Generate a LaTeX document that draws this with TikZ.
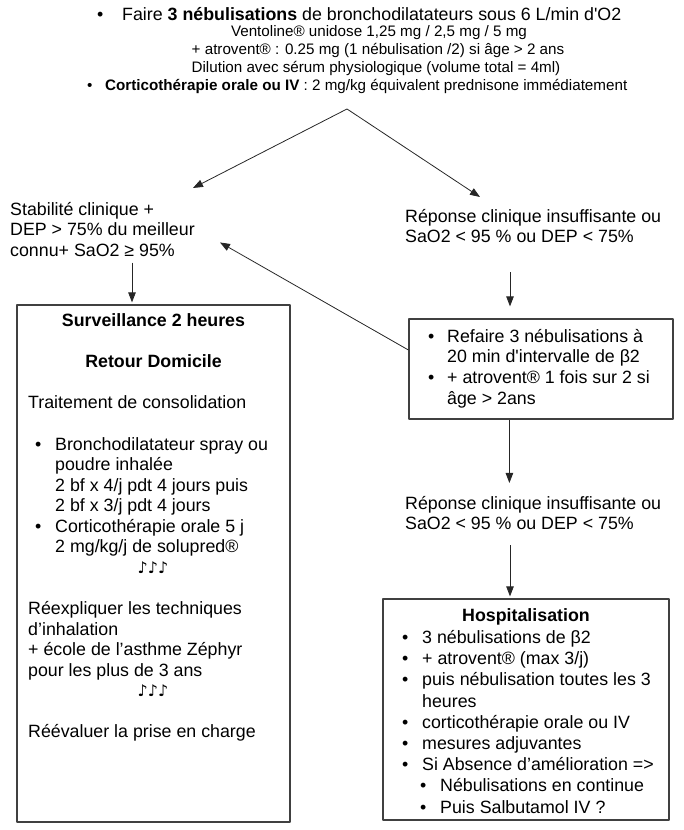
\documentclass[tikz,border=0pt]{standalone}
\usepackage{fontspec}
\setmainfont{Liberation Sans}
\newfontfamily\notesfont{DejaVu Sans}
\usetikzlibrary{arrows.meta}

\newcommand\bodysize{\fontsize{17.8bp}{20.55bp}\selectfont}
\newcommand\smallsize{\fontsize{15.2bp}{18bp}\selectfont}
\newcommand\bul{\makebox[20bp][l]{\textbullet}}
\newcommand\ind{\hspace*{20bp}}

\tikzset{
  txt/.style={inner sep=0pt, anchor=base west, font=\bodysize},
  para/.style={inner sep=0pt, anchor=north west, align=left, font=\bodysize},
  frame/.style={draw=black!75, line width=1.2bp, inner sep=0pt},
  notes/.style={inner sep=0pt, anchor=base, font=\notesfont\bfseries\fontsize{16bp}{18bp}\selectfont},
  link/.style={->, draw=black!85, line width=0.8bp},
}

\begin{document}
\begin{tikzpicture}[>={Triangle[length=10bp,width=7.5bp]},line join=bevel]
  \useasboundingbox (0bp,0bp) rectangle (684bp,830bp);
%%
  % Node: Nebul
  \node[txt] (nebul) at (97bp,809bp) {\makebox[25bp][l]{\textbullet}Faire \textbf{3 nébulisations} de bronchodilatateurs sous 6 L/min d\textquotesingle O2};
  \node[txt, anchor=base, font=\smallsize] (ventoline) at (379bp,793bp) {Ventoline® unidose 1,25 mg / 2,5 mg / 5 mg};
  \node[txt, anchor=base, font=\smallsize] (atrovent) at (378bp,775bp) {+ atrovent® : 0.25 mg (1 nébulisation /2) si âge > 2 ans};
  \node[txt, anchor=base, font=\smallsize] (dilution) at (376bp,757bp) {Dilution avec sérum physiologique (volume total = 4ml)};
  % Node: Cortico
  \node[txt, font=\smallsize] (cortico) at (87bp,739bp) {\makebox[18bp][l]{\textbullet}\textbf{Corticothérapie orale ou IV} : 2 mg/kg équivalent prednisone immédiatement};
  \coordinate (split) at (347bp,721bp);
  % Node: Stable
  \node[para] (stable) at (10bp,629.4bp) {\strut Stabilité clinique +\\DEP > 75\% du meilleur\\connu+ SaO2 ≥ 95\%\strut};
  % Node: Poor1
  \node[para] (poor1) at (405bp,622.4bp) {\strut Réponse clinique insuffisante ou\\SaO2 < 95 \% ou DEP < 75\%\strut};
  % Node: Home
\begin{scope}
  \node[frame, minimum width=273bp, minimum height=517bp] (home) at (153.5bp,266.5bp) {};
  \node[txt, anchor=base, font=\bodysize\bfseries] (homewatch) at (153.5bp,503bp) {Surveillance 2 heures};
  \node[txt, anchor=base, font=\bodysize\bfseries] (homereturn) at (153.5bp,462bp) {Retour Domicile};
  \node[txt] (homecons) at (28bp,421bp) {Traitement de consolidation};
  \node[para] (homedrugs) at (35bp,394.4bp) {\strut\bul Bronchodilatateur spray ou\\\ind poudre inhalée\\\ind 2 bf x 4/j pdt 4 jours puis\\\ind 2 bf x 3/j pdt 4 jours\\\bul Corticothérapie orale 5 j\\\ind 2 mg/kg/j de solupred®};
  \node[notes] (homenotesa) at (153bp,256.4bp) {♪♪♪};
  \node[para] (homeschool) at (28bp,229.7bp) {\strut Réexpliquer les techniques\\d’inhalation\\+ école de l’asthme Zéphyr\\pour les plus de 3 ans};
  \node[notes] (homenotesb) at (153bp,133.1bp) {♪♪♪};
  \node[txt] (homeeval) at (28bp,92bp) {Réévaluer la prise en charge};
\end{scope}
  % Node: Redo
\begin{scope}
  \node[frame, minimum width=264bp, minimum height=100bp] (redo) at (541bp,461bp) {};
  \node[para, font=\fontsize{17.8bp}{20.8bp}\selectfont] (redotext) at (428bp,502.6bp) {\strut\makebox[19bp][l]{\textbullet}Refaire 3 nébulisations à\\\hspace*{19bp}20 min d\textquotesingle intervalle de β2\\\makebox[19bp][l]{\textbullet}+ atrovent® 1 fois sur 2 si\\\hspace*{19bp}âge > 2ans};
\end{scope}
  % Node: Poor2
  \node[para] (poor2) at (405bp,335.4bp) {\strut Réponse clinique insuffisante ou\\SaO2 < 95 \% ou DEP < 75\%\strut};
  % Node: Hosp
\begin{scope}
  \node[frame, minimum width=286bp, minimum height=221bp] (hosp) at (526bp,120.5bp) {};
  \node[txt, anchor=base, font=\bodysize\bfseries] (hosptitle) at (526bp,208bp) {Hospitalisation};
  \node[para, font=\fontsize{17.8bp}{21.2bp}\selectfont] (hospcare) at (402bp,201.6bp) {\strut\bul 3 nébulisations de β2\\\bul + atrovent® (max 3/j)\\\bul puis nébulisation toutes les 3\\\ind heures\\\bul corticothérapie orale ou IV\\\bul mesures adjuvantes\\\bul Si Absence d’amélioration =>\\\hspace*{18bp}\bul Nébulisations en continue\\\hspace*{18bp}\bul Puis Salbutamol IV ?};
\end{scope}
  % Edge: split -> Stable
  \draw[link] (split) -- ([xshift=183bp,yshift=12.6bp]stable.north west);
  % Edge: split -> Poor1
  \draw[link] (split) -- ([xshift=75bp,yshift=10.6bp]poor1.north west);
  % Edge: Stable -> Home
  \coordinate (stabledown) at ([xshift=122bp]stable.south west);
  \draw[link, shorten >=2bp] (stabledown) -- (stabledown |- home.north);
  % Edge: Poor1 -> Redo
  \coordinate (poordown) at ([xshift=105bp,yshift=-23bp]poor1.south west);
  \draw[link, shorten >=12bp] (poordown) -- (poordown |- redo.north);
  % Edge: Redo -> Stable
  \draw[link] ([yshift=19bp]redo.west) -- ([xshift=210bp,yshift=20.2bp]stable.south west);
  % Edge: Redo -> Poor2
  \coordinate (redodown) at ([xshift=101bp]redo.south west);
  \draw[link, shorten >=11.6bp] (redodown) -- (redodown |- poor2.north);
  % Edge: Poor2 -> Hosp
  \coordinate (poortwodown) at ([xshift=105bp,yshift=-9.3bp]poor2.south west);
  \draw[link, shorten >=2bp] (poortwodown) -- (poortwodown |- hosp.north);
%
\end{tikzpicture}
\end{document}
